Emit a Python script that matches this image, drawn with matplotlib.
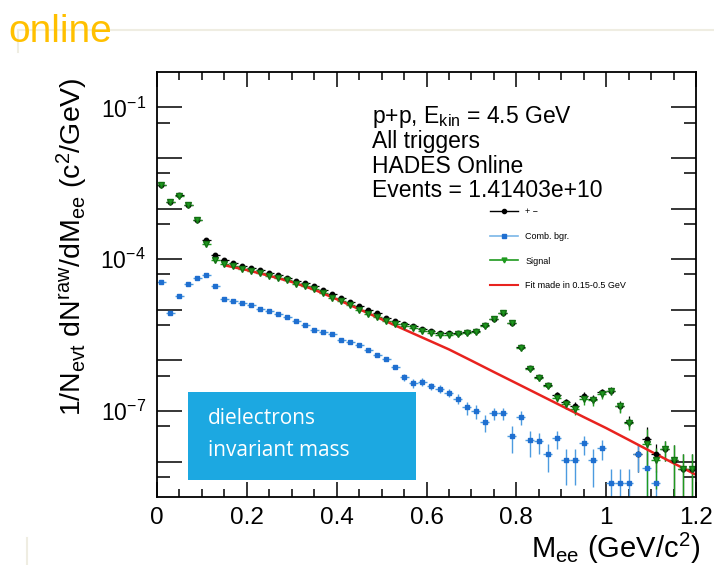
import numpy as np
import matplotlib.pyplot as plt
from matplotlib.lines import Line2D
from matplotlib.patches import Rectangle
from matplotlib.ticker import FixedLocator, FuncFormatter, MultipleLocator

plt.rcParams['font.family'] = ['Liberation Sans', 'DejaVu Sans']
plt.rcParams['mathtext.fontset'] = 'custom'
plt.rcParams['mathtext.rm'] = 'Liberation Sans'
plt.rcParams['mathtext.it'] = 'Liberation Sans:italic'
plt.rcParams['mathtext.default'] = 'regular'

# bin centres (GeV/c^2), 20 MeV bins
mass = [0.01, 0.03, 0.05, 0.07, 0.09, 0.11, 0.13, 0.15, 0.17, 0.19,
        0.21, 0.23, 0.25, 0.27, 0.29, 0.31, 0.33, 0.35, 0.37, 0.39,
        0.41, 0.43, 0.45, 0.47, 0.49, 0.51, 0.53, 0.55, 0.57, 0.59,
        0.61, 0.63, 0.65, 0.67, 0.69, 0.71, 0.73, 0.75, 0.77, 0.79,
        0.81, 0.83, 0.85, 0.87, 0.89, 0.91, 0.93, 0.95, 0.97, 0.99,
        1.01, 1.03, 1.05, 1.07, 1.09, 1.11, 1.13, 1.15, 1.17, 1.19]

# +- pairs (black)
pm = [2.96e-3, 1.36e-3, 1.82e-3, 1.2e-3, 6.0e-4, 2.43e-4, 1.23e-4, 9.5e-5, 8.3e-5, 7.4e-5,
      6.8e-5, 6.2e-5, 5.3e-5, 4.8e-5, 4.3e-5, 3.7e-5, 3.35e-5, 2.9e-5, 2.42e-5, 2.05e-5,
      1.71e-5, 1.43e-5, 1.2e-5, 1.0e-5, 8.6e-6, 6.9e-6, 5.9e-6, 5.3e-6, 4.7e-6, 4.2e-6,
      3.74e-6, 3.48e-6, 3.48e-6, 3.48e-6, 3.57e-6, 3.74e-6, 4.92e-6, 6.58e-6, 8.65e-6, 5.48e-6,
      1.81e-6, 7.07e-7, 4.62e-7, 3.27e-7, 2.1e-7, 1.48e-7, 1.23e-7, 1.95e-7, 1.73e-7, 2.33e-7,
      2.52e-7, 1.27e-7, 6.2e-8, 1.43e-8, 2.8e-8, 1.43e-8, 1.77e-8, 1.1e-8, 7.1e-9, 7.1e-9]
pm_err = [0] * 41 + [5e-8, 4e-8, 3.5e-8, 3e-8, 2.8e-8, 2.8e-8, 4e-8, 3.5e-8, 4e-8,
                     4e-8, 3e-8, 1.6e-8, 8e-9, 2.1e-8, 8e-9, 7.5e-9, 1e-8, 7e-9, 7e-9]

# combinatorial background (blue)
bgr = [3.55e-5, 8.6e-6, 1.9e-5, 3.3e-5, 4.3e-5, 4.9e-5, 3.0e-5, 1.63e-5, 1.5e-5, 1.36e-5,
       1.23e-5, 1.05e-5, 9.3e-6, 8.3e-6, 7.1e-6, 5.9e-6, 5.06e-6, 4.04e-6, 3.64e-6, 3.33e-6,
       2.49e-6, 2.27e-6, 2.04e-6, 1.63e-6, 1.3e-6, 1.07e-6, 7.4e-7, 4.7e-7, 3.57e-7, 3.8e-7,
       3.1e-7, 2.75e-7, 2.3e-7, 1.75e-7, 1.19e-7, 1.01e-7, 6.2e-8, 9.1e-8, 9.1e-8, 3.25e-8,
       7.6e-8, 2.62e-8, 2.5e-8, 1.43e-8, 2.92e-8, 1.06e-8, 1.06e-8, 2.33e-8, 1.06e-8, 1.86e-8,
       3.8e-9, 3.8e-9, 3.8e-9, 1.43e-8, 7.5e-9, 3.8e-9, np.nan, np.nan, np.nan, np.nan]
bgr_err = [0] * 27 + [8e-8, 7e-8, 7e-8, 5e-8, 5e-8, 4.5e-8, 4e-8, 3.5e-8, 3e-8,
                      2.3e-8, 2.4e-8, 2.4e-8, 1.75e-8, 2.2e-8, 1.4e-8, 1.1e-8, 8.2e-9, 1.15e-8,
                      7.2e-9, 7.2e-9, 9.5e-9, 7.5e-9, 8e-9, 3.2e-9, 3.2e-9, 3.2e-9, 8e-9, 7e-9,
                      2.8e-9, 0, 0, 0, 0]

# signal (green)
sig = [2.93e-3, 1.35e-3, 1.8e-3, 1.19e-3, 5.85e-4, 2.0e-4, 9.8e-5, 8.1e-5, 7.2e-5, 6.5e-5,
       5.9e-5, 5.3e-5, 4.7e-5, 4.3e-5, 3.8e-5, 3.3e-5, 2.95e-5, 2.55e-5, 2.1e-5, 1.75e-5,
       1.48e-5, 1.22e-5, 1.0e-5, 8.4e-6, 7.3e-6, 5.9e-6, 5.2e-6, 4.8e-6, 4.35e-6, 3.85e-6,
       3.45e-6, 3.2e-6, 3.25e-6, 3.3e-6, 3.45e-6, 3.62e-6, 4.85e-6, 6.5e-6, 8.55e-6, 5.45e-6,
       1.74e-6, 6.8e-7, 4.4e-7, 3.15e-7, 1.8e-7, 1.37e-7, 1.12e-7, 1.72e-7, 1.62e-7, 2.14e-7,
       2.48e-7, 1.23e-7, 5.8e-8, np.nan, 2.23e-8, 1.09e-8, 1.77e-8, 1.09e-8, 7.1e-9, 7.1e-9]
sig_err = [0] * 41 + [5e-8, 4e-8, 3.5e-8, 3e-8, 2.8e-8, 2.8e-8, 4e-8, 3.5e-8, 4e-8,
                      4e-8, 3e-8, 1.6e-8, 0, 2.1e-8, 8e-9, 7.5e-9, 1e-8, 7e-9, 7e-9]

# fit made in 0.15-0.5 GeV, extrapolated
fit_mass = [0.15, 0.20, 0.25, 0.30, 0.35, 0.40, 0.45, 0.50, 0.55, 0.60, 0.65,
            0.70, 0.75, 0.80, 0.85, 0.90, 0.95, 1.00, 1.05, 1.10, 1.15, 1.20]
fit_val = [7.6e-5, 6.1e-5, 4.7e-5, 3.55e-5, 2.5e-5, 1.62e-5, 1.03e-5, 6.5e-6, 4.1e-6, 2.6e-6, 1.65e-6,
           9.9e-7, 5.9e-7, 3.54e-7, 2.12e-7, 1.27e-7, 7.6e-8, 4.6e-8, 2.7e-8, 1.58e-8, 9.3e-9, 5.5e-9]

W, H = 714, 565


def fx(x):
    return x / W


def fy(y):
    return 1 - y / H


fig = plt.figure(figsize=(W / 100, H / 100), dpi=100)
ax = fig.add_axes([fx(157), fy(497), (696 - 157) / W, (497 - 72) / H])


def draw(vals, errs, **kw):
    x = np.array(mass)
    y = np.array(vals, dtype=float)
    e = np.array(errs, dtype=float)
    ok = ~np.isnan(y)
    lo = np.minimum(e[ok], y[ok] * 0.9999)
    ax.errorbar(x[ok], y[ok], xerr=0.01, yerr=[lo, e[ok]], capsize=0, linestyle='none', **kw)


draw(pm, pm_err, marker='o', ms=3.2, color='k', elinewidth=0.9)
draw(bgr, bgr_err, marker='s', ms=2.4, mfc='#1f6fd0', mec='#1f6fd0', ecolor='#4c9be0', elinewidth=1.0)
draw(sig, sig_err, marker='v', ms=3.8, mfc='#1e9a1e', mec='#137013', ecolor='#1e9a1e', elinewidth=1.0)
ax.plot(fit_mass, fit_val, color='#e8231f', lw=1.8)

ax.set_yscale('log')
ax.set_xlim(0, 1.2)
ax.set_ylim(2e-9, 0.5)

ax.xaxis.set_major_locator(MultipleLocator(0.2))
ax.xaxis.set_minor_locator(MultipleLocator(0.05))
ax.xaxis.set_major_formatter(FuncFormatter(lambda v, _: '{:g}'.format(round(v, 2))))
ax.yaxis.set_major_locator(FixedLocator(10.0 ** np.arange(-9, 0)))
ax.yaxis.set_minor_locator(FixedLocator(5 * 10.0 ** np.arange(-10, -1)))
ax.yaxis.set_major_formatter(FuncFormatter(
    lambda v, _: '$10^{%d}$' % round(np.log10(v)) if round(np.log10(v)) in (-1, -4, -7) else ''))

ax.tick_params(which='both', direction='in', top=True, right=True, width=1.1, labelsize=17.5)
ax.tick_params(axis='x', which='major', length=11, pad=7)
ax.tick_params(axis='x', which='minor', length=6)
ax.tick_params(axis='y', which='major', length=18, pad=8, labelsize=16.5)
ax.tick_params(axis='y', which='minor', length=9)
for s in ax.spines.values():
    s.set_linewidth(1.3)

# legend
handles = [Line2D([], [], color='k', marker='o', ms=3, lw=1),
           Line2D([], [], color='#7ab6e8', marker='s', ms=2.4, mfc='#1f6fd0', mec='#1f6fd0', lw=1.2),
           Line2D([], [], color='#1e9a1e', marker='v', ms=3.5, lw=1.2),
           Line2D([], [], color='#e8231f', lw=1.5)]
labels = ['+ \u2212', 'Comb. bgr.', 'Signal', 'Fit made in 0.15-0.5 GeV']
fig.legend(handles, labels, loc='upper left', bbox_to_anchor=(fx(490), fy(207)),
           frameon=False, fontsize=6.5, handlelength=3.1, handletextpad=0.8,
           labelspacing=1.75, borderpad=0, borderaxespad=0)

# info text
info = ['p+p, E$_{kin}$ = 4.5 GeV', 'All triggers', 'HADES Online', 'Events = 1.41403e+10']
for k, line in enumerate(info):
    fig.text(fx(372), fy(117 + 24.6 * k), line, fontsize=16.5, va='center', ha='left')

# axis titles
fig.text(fx(700), fy(558), 'M$_{ee}$ (GeV/c$^2$)', fontsize=21, ha='right', va='baseline')
fig.text(fx(72), fy(77), '1/N$_{evt}$ dN$^{raw}$/dM$_{ee}$ (c$^2$/GeV)', fontsize=20.5,
         rotation=90, ha='center', va='top')

# blue label box
fig.add_artist(Rectangle((fx(188), fy(480)), (416 - 188) / W, (480 - 392) / H,
                         transform=fig.transFigure, facecolor='#1ca8e1', edgecolor='none', zorder=5))
fig.text(fx(208), fy(418), 'dielectrons', fontsize=15, color='white', family=['Open Sans', 'DejaVu Sans'],
         va='center', ha='left', zorder=6)
fig.text(fx(208), fy(451), 'invariant mass', fontsize=15, color='white', family=['Open Sans', 'DejaVu Sans'],
         va='center', ha='left', zorder=6)

# slide decorations
fig.add_artist(Line2D([fx(18), fx(714)], [fy(30), fy(30)], transform=fig.transFigure,
                      color='#efede2', lw=1.5, zorder=0))
fig.add_artist(Line2D([fx(18), fx(18)], [fy(30), fy(52)], transform=fig.transFigure,
                      color='#efede2', lw=1.5, zorder=0))
fig.add_artist(Line2D([fx(27), fx(27)], [fy(538), fy(565)], transform=fig.transFigure,
                      color='#efede2', lw=1.5, zorder=0))
fig.text(fx(8), fy(42), 'online', fontsize=28, color='#ffc000', ha='left', va='baseline')

fig.savefig('out.png', dpi=100)
